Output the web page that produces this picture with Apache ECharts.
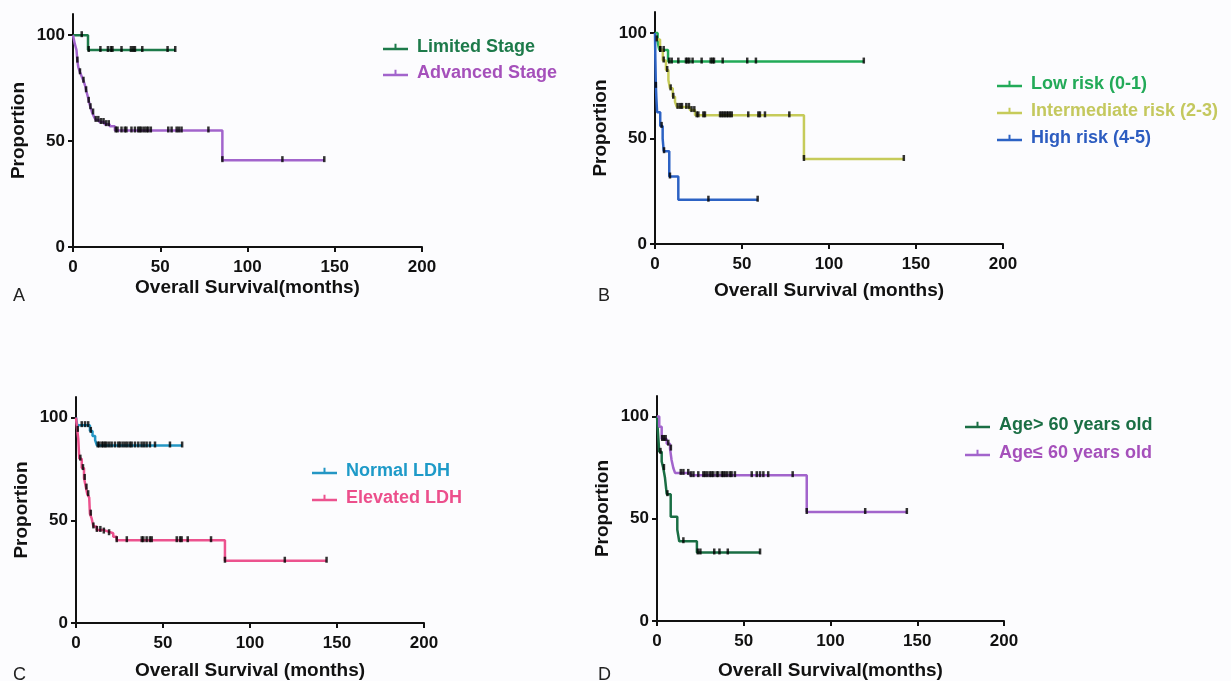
<!DOCTYPE html>
<html>
<head>
<meta charset="utf-8">
<script src="https://cdn.jsdelivr.net/npm/echarts@6/dist/echarts.min.js"></script>
<style>
  html, body { margin: 0; padding: 0; background: #fcfcfe; }
  #chart { width: 1231px; height: 681px; }
</style>
</head>
<body>
<div id="chart"></div>
<script>
// tick labels
var xTicks = [0, 50, 100, 150, 200];
var yTicks = [0, 50, 100];

// A: stage  (time in months, survival %)
var limitedCurve = [[0, 100], [8.6, 93], [58.6, 93]];
var limitedCens = [5, 9, 15.7, 20, 21.7, 22.6, 27.8, 33.2, 34.5, 35.5, 39.7, 54.2, 58.6];
var advancedCurve = [[0, 100], [1, 96], [2, 93], [2.5, 88], [3, 85], [4, 82.5], [5, 80.5], [6, 78.5], [7, 76], [7.5, 74],
  [8.5, 71], [9, 69], [10, 66], [11, 63.5], [12, 61.5], [13, 60], [15, 59], [18, 58], [21, 57], [24, 55], [85.6, 41], [144, 41]];
var advancedCens = [2.5, 4, 6, 7.5, 9, 10, 11.5, 13, 14.5, 16, 17.5, 19, 20.5, 24.5, 25.5, 27.8, 29.7, 30.6, 33.5, 35.5,
  37.4, 38.3, 39.3, 40.8, 42.1, 43.1, 44.6, 54.6, 56.5, 59.4, 60.7, 62.2, 77.6, 85.6, 120, 144];

// B: risk score
var lowCurve = [[0, 100], [1.5, 96], [2.5, 92], [7.5, 86.5], [120, 86.5]];
var lowCens = [3, 5, 8.2, 9.6, 13.4, 17.8, 18.6, 19.7, 21.6, 26.8, 32, 33.1, 33.9, 38.9, 53, 58, 120];
var interCurve = [[0, 100], [0.5, 97], [2.9, 92], [4.5, 87], [6.3, 82.5], [7.7, 77.7], [8.6, 73.8], [10.2, 69.8], [11.5, 67.4],
  [12.5, 65], [20, 63.5], [23, 61], [85.6, 40.3], [143, 40.3]];
var interCens = [1, 3, 5, 7, 9, 10.5, 13, 14.5, 15.5, 18, 19.5, 21, 22.6, 24, 24.9, 27.8, 28.7, 37.4, 38.3, 39.3, 40.2, 41.2,
  42.1, 43.1, 44.1, 53.6, 59.4, 60.3, 63.2, 77.2, 85.6, 143];
var highCurve = [[0, 100], [0.2, 87.5], [0.5, 75], [0.8, 69], [1.2, 62.5], [3, 56], [4.4, 50], [5, 44], [8.2, 32], [13.4, 21], [59, 21]];
var highCens = [0.5, 3.8, 5.2, 8.6, 30.7, 59];

// C: LDH
var normalCurve = [[0, 100], [0.7, 96.3], [8, 93.5], [9.5, 91], [11, 89], [12, 86.4], [61, 86.4]];
var normalCens = [3.3, 5.2, 7, 8.5, 12.5, 13.4, 14.8, 15.7, 16.7, 17.6, 19.1, 20.5, 22.4, 24.3, 25.3, 26.8, 28.2, 29.5, 31, 32,
  33.9, 35.8, 37.7, 39.1, 40.6, 42.5, 45.4, 54, 61];
var elevCurve = [[0, 100], [0.7, 94], [1.3, 89.6], [1.9, 80], [3.3, 75.4], [4.6, 70.6], [5.7, 65.9], [6.5, 62.7], [7.6, 61], [8, 53.2],
  [9, 50.9], [10, 47], [11.9, 45.3], [15.7, 44.5], [18.6, 43.7], [21.4, 42], [23.4, 40.3], [85.6, 30.3], [144, 30.3]];
var elevCens = [1, 2.5, 4, 5, 6, 7, 8.5, 10, 12, 14, 16, 19, 23.4, 29.2, 37.8, 38.7, 40.6, 42.5, 43.5, 57.9, 59.8, 60.7, 64.2,
  77.6, 85.6, 120, 144];

// D: age
var oldCurve = [[0, 100], [0.4, 94], [0.8, 89], [1.3, 82.7], [2.7, 78], [3.6, 74.8], [4.6, 70], [5.6, 62], [7.9, 51], [11.7, 44.6],
  [12.8, 39], [23, 33.5], [59.4, 33.5]];
var oldCens = [2, 4, 6, 15.2, 23.5, 25, 33, 36, 40.8, 59.4];
var youngCurve = [[0, 100], [1.3, 95], [2.7, 89], [5.6, 86.7], [7.5, 84.3], [8.4, 78.7], [9.4, 74.8], [10.4, 72.4], [19, 71.3],
  [86.3, 53.3], [144, 53.3]];
var youngCens = [3, 4, 5, 6.5, 8, 13.7, 15.2, 18, 19.5, 21, 23.8, 26.7, 27.7, 29, 30.5, 31.5, 32.5, 34.4, 35.3, 37.3, 38.2, 39.2,
  40.5, 42.1, 43, 44.9, 54.6, 57.5, 59.4, 61.3, 64.1, 78.2, 86.3, 120, 144];

var FONT = "'Liberation Sans', Arial, sans-serif";

// survival value of a step curve at time t
function kmAt(curve, t) {
  var v = curve[0][1];
  for (var i = 0; i < curve.length; i++) {
    if (curve[i][0] <= t) v = curve[i][1];
  }
  return v;
}

var grids = [
  { left: 73, top: 14, width: 349, height: 233 },
  { left: 655, top: 12, width: 348, height: 232 },
  { left: 76, top: 397, width: 348, height: 232 },
  { left: 657, top: 396, width: 347, height: 231 }
];

function makeX(i, name, gap) {
  return {
    gridIndex: i, type: "value", min: 0, max: 200, interval: 50,
    name: name, nameLocation: "middle", nameGap: gap,
    nameTextStyle: { fontFamily: FONT, fontWeight: "bold", fontSize: 19, color: "#111" },
    axisLine: { lineStyle: { color: "#111", width: 2 } },
    axisTick: { length: 5, lineStyle: { color: "#111", width: 2 } },
    axisLabel: { margin: 12, fontFamily: FONT, fontWeight: "bold", fontSize: 17, color: "#111" },
    splitLine: { show: false }
  };
}

function makeY(i) {
  return {
    gridIndex: i, type: "value", min: 0, max: 110,
    name: "Proportion", nameLocation: "middle", nameGap: 45,
    nameTextStyle: { fontFamily: FONT, fontWeight: "bold", fontSize: 19, color: "#111" },
    axisLine: { show: true, lineStyle: { color: "#111", width: 2 } },
    axisTick: { show: true, length: 5, customValues: yTicks, lineStyle: { color: "#111", width: 2 } },
    axisLabel: { margin: 8, customValues: yTicks, fontFamily: FONT, fontWeight: "bold", fontSize: 17, color: "#111" },
    splitLine: { show: false }
  };
}

var series = [];
function addGroup(i, name, color, curve, cens) {
  series.push({
    name: name, type: "line", step: "end", xAxisIndex: i, yAxisIndex: i,
    showSymbol: false, symbol: "none", color: color,
    lineStyle: { color: color, width: 2.5 },
    data: curve, z: 2, silent: true
  });
  series.push({
    name: name + " censored", type: "scatter", xAxisIndex: i, yAxisIndex: i,
    symbol: "rect", symbolSize: [2.5, 6], symbolOffset: [0, -1],
    itemStyle: { color: "#000" },
    data: cens.map(function (t) { return [t, kmAt(curve, t)]; }), z: 3, silent: true
  });
}

addGroup(0, "Limited Stage", "#1d7a4a", limitedCurve, limitedCens);
addGroup(0, "Advanced Stage", "#a264cc", advancedCurve, advancedCens);
addGroup(1, "Low risk (0-1)", "#22aa58", lowCurve, lowCens);
addGroup(1, "Intermediate risk (2-3)", "#c6cb5a", interCurve, interCens);
addGroup(1, "High risk (4-5)", "#2c62c4", highCurve, highCens);
addGroup(2, "Normal LDH", "#2496c4", normalCurve, normalCens);
addGroup(2, "Elevated LDH", "#ec528e", elevCurve, elevCens);
addGroup(3, "Age> 60 years old", "#1a6e44", oldCurve, oldCens);
addGroup(3, "Age≤ 60 years old", "#a264cc", youngCurve, youngCens);

var ICON = "path://M0,5 L25,5 L25,7.5 L0,7.5 Z M11.5,1 L13.5,1 L13.5,5 L11.5,5 Z";

function makeLegend(left, top, gap, items) {
  return {
    orient: "vertical", left: left, top: top, itemGap: gap,
    itemWidth: 25, itemHeight: 8, selectedMode: false,
    textStyle: { fontFamily: FONT, fontWeight: "bold", fontSize: 18, padding: [0, 0, 0, 4] },
    data: items.map(function (it) {
      return { name: it[0], icon: ICON, textStyle: { color: it[1] } };
    })
  };
}

var letterStyle = { fontFamily: FONT, fontWeight: "normal", fontSize: 18, color: "#222" };

var option = {
  backgroundColor: "#fcfcfe",
  animation: false,
  title: [
    { text: "A", left: 13, top: 287, padding: 0, textStyle: letterStyle },
    { text: "B", left: 598, top: 287, padding: 0, textStyle: letterStyle },
    { text: "C", left: 13, top: 666, padding: 0, textStyle: letterStyle },
    { text: "D", left: 598, top: 666, padding: 0, textStyle: letterStyle }
  ],
  grid: grids.map(function (g) { return Object.assign({ containLabel: false }, g); }),
  xAxis: [
    makeX(0, "Overall Survival(months)", 31),
    makeX(1, "Overall Survival (months)", 37),
    makeX(2, "Overall Survival (months)", 38),
    makeX(3, "Overall Survival(months)", 40)
  ],
  yAxis: [makeY(0), makeY(1), makeY(2), makeY(3)],
  legend: [
    makeLegend(378, 33, 8, [["Limited Stage", "#1d7a4a"], ["Advanced Stage", "#a550bb"]]),
    makeLegend(992, 70, 9, [["Low risk (0-1)", "#22aa58"], ["Intermediate risk (2-3)", "#c4c85e"], ["High risk (4-5)", "#2c5cc0"]]),
    makeLegend(307, 457, 9, [["Normal LDH", "#1e9ac8"], ["Elevated LDH", "#ec4f8c"]]),
    makeLegend(960, 411, 10, [["Age> 60 years old", "#1a6e44"], ["Age≤ 60 years old", "#a550bb"]])
  ],
  series: series
};

var chart = echarts.init(document.getElementById("chart"));
chart.setOption(option);
</script>
</body>
</html>
